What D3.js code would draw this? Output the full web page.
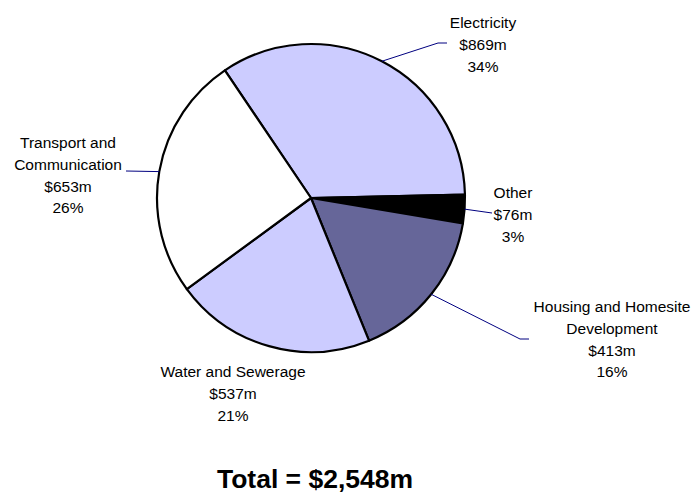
<!DOCTYPE html>
<html>
<head>
<meta charset="utf-8">
<script src="https://cdn.jsdelivr.net/npm/d3@7"></script>
<style>
  body { margin: 0; background: #fff; }
  svg { display: block; font-family: "Liberation Sans", Arial, sans-serif; }
</style>
</head>
<body>
<svg id="chart"></svg>
<script>
// data
const categories = ["Electricity", "Other", "Housing and Homesite Development", "Water and Sewerage", "Transport and Communication"];
const values = [869, 76, 413, 537, 653];
const percents = [34, 3, 16, 21, 26];
const totalLabel = "Total = $2,548m";

// label text lines (category names wrapped as in the original)
const nameLines = [["Electricity"], ["Other"], ["Housing and Homesite", "Development"], ["Water and Sewerage"], ["Transport and", "Communication"]];
const fills = ["#ccccff", "#000000", "#666699", "#ccccff", "#ffffff"];

// layout for labels: centre x, first baseline, leader polyline (null = none)
const labelLayout = [
  { x: 483, y: 28, leader: [[438, 43], [447, 43]] },
  { x: 513, y: 198, leader: [[492, 213]] },
  { x: 612, y: 312, leader: [[520, 339], [529, 339]] },
  { x: 233, y: 377, leader: null },
  { x: 68, y: 148, leader: [[126, 171]] }
];

const width = 694, height = 495;
const cx = 311, cy = 198, radius = 154;
const lineH = 21.8;

const svg = d3.select("#chart").attr("width", width).attr("height", height);

const startAngle = -34 * Math.PI / 180;
const pie = d3.pie().sort(null).value(d => d)
    .startAngle(startAngle).endAngle(startAngle + 2 * Math.PI);
const arcs = pie(values);

const arc = d3.arc().innerRadius(0).outerRadius(radius);

const g = svg.append("g").attr("transform", "translate(" + cx + "," + cy + ")");

g.selectAll("path.slice")
    .data(arcs)
    .enter().append("path")
    .attr("class", "slice")
    .attr("d", arc)
    .attr("fill", (d, i) => fills[i])
    .attr("stroke", "#000")
    .attr("stroke-width", 2.2)
    .attr("stroke-linejoin", "round");

// leader lines from slice mid-angle on the rim
arcs.forEach((d, i) => {
    const lay = labelLayout[i];
    if (!lay.leader) return;
    const mid = (d.startAngle + d.endAngle) / 2;
    const pts = [[cx + radius * Math.sin(mid), cy - radius * Math.cos(mid)]].concat(lay.leader);
    svg.append("path")
        .attr("d", d3.line()(pts))
        .attr("fill", "none")
        .attr("stroke", "#000080")
        .attr("stroke-width", 1);
});

// labels
arcs.forEach((d, i) => {
    const lay = labelLayout[i];
    const lines = nameLines[i].concat(["$" + values[i] + "m", percents[i] + "%"]);
    const t = svg.append("text")
        .attr("text-anchor", "middle")
        .attr("font-size", "15.5px")
        .attr("fill", "#000");
    lines.forEach((s, k) => {
        t.append("tspan")
            .attr("x", lay.x)
            .attr("y", lay.y + k * lineH)
            .text(s);
    });
});

svg.append("text")
    .attr("x", 315)
    .attr("y", 488)
    .attr("text-anchor", "middle")
    .attr("font-size", "26.5px")
    .attr("font-weight", "bold")
    .text(totalLabel);
</script>
</body>
</html>
